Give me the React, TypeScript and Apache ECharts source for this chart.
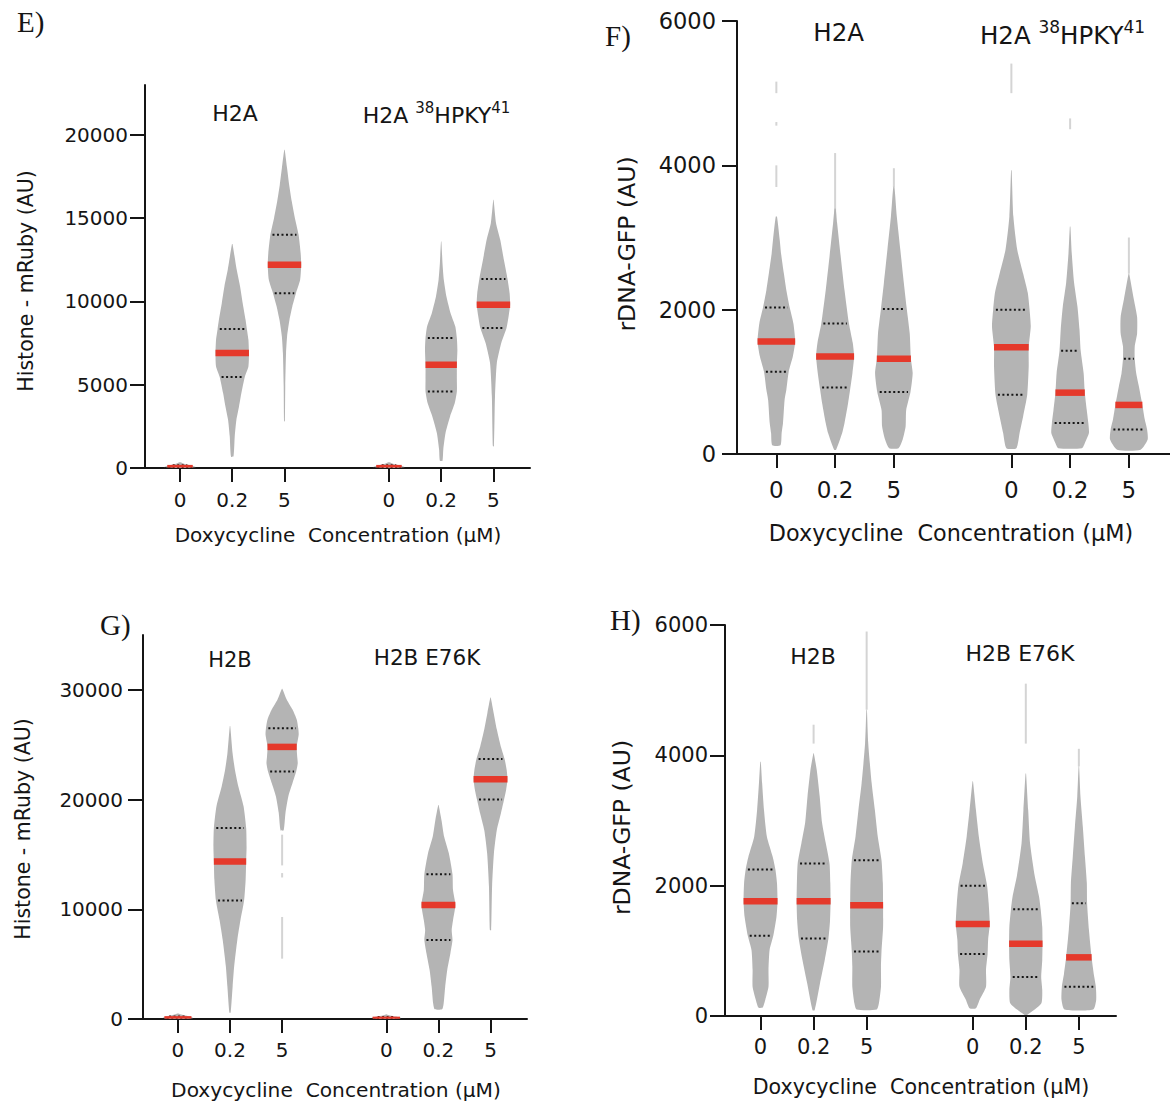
import React, { useEffect, useRef } from 'react';
import * as echarts from 'echarts';

// ---------- shared categories ----------
const POSITIONS = [1, 2, 3, 5, 6, 7];
const DOSE_LABELS = ['0', '0.2', '5', '0', '0.2', '5'];

// ---------- Panel E : H2A / H2A 38HPKY41, Histone - mRuby ----------
const E_Y_TICKS = [0, 5000, 10000, 15000, 20000];
const E_MEDIAN = [110, 6900, 12200, 110, 6200, 9800];
const E_Q1 = [50, 5470, 10500, 50, 4600, 8400];
const E_Q3 = [180, 8350, 14000, 180, 7800, 11350];
// [value, half width in category units]
const E_SHAPES: number[][][] = [
  [[0, 0.1], [60, 0.3], [150, 0.2], [250, 0.08], [340, 0.01]],
  [[700, 0.025], [1900, 0.048], [2900, 0.08], [3700, 0.13], [4500, 0.175], [5470, 0.24], [6100, 0.31], [6900, 0.32], [7700, 0.31], [8350, 0.28], [8900, 0.255], [9900, 0.2], [10900, 0.15], [11900, 0.086], [12700, 0.045], [13450, 0.005]],
  [[2800, 0.008], [4900, 0.015], [6900, 0.03], [7900, 0.05], [8900, 0.096], [9700, 0.15], [10500, 0.22], [11300, 0.3], [12200, 0.32], [12900, 0.31], [14000, 0.27], [15000, 0.2], [16000, 0.14], [17000, 0.09], [18000, 0.05], [19100, 0.005]],
  [[0, 0.1], [60, 0.3], [150, 0.2], [250, 0.08], [340, 0.01]],
  [[440, 0.025], [1100, 0.04], [2100, 0.083], [3100, 0.17], [3900, 0.26], [4600, 0.3], [5300, 0.3], [6200, 0.3], [7100, 0.31], [7800, 0.3], [8500, 0.27], [9300, 0.18], [10300, 0.1], [11300, 0.05], [12300, 0.025], [13600, 0.004]],
  [[1300, 0.01], [4300, 0.03], [6300, 0.065], [7500, 0.15], [8400, 0.25], [9100, 0.29], [9800, 0.32], [10500, 0.31], [11350, 0.27], [12500, 0.2], [13700, 0.13], [14700, 0.05], [16100, 0.004]],
];
const E_TAILS: number[][][] = [[], [], [], [], [], []];

// ---------- Panel F : H2A / H2A 38HPKY41, rDNA-GFP ----------
const F_Y_TICKS = [0, 2000, 4000, 6000];
const F_MEDIAN = [1560, 1350, 1320, 1480, 850, 680];
const F_Q1 = [1140, 920, 860, 820, 430, 340];
const F_Q3 = [2030, 1810, 2010, 2000, 1430, 1320];
const F_SHAPES: number[][][] = [
  [[120, 0.07], [290, 0.09], [430, 0.113], [750, 0.14], [890, 0.17], [1140, 0.21], [1350, 0.28], [1560, 0.32], [1810, 0.29], [2030, 0.227], [2270, 0.17], [2500, 0.128], [2780, 0.08], [2970, 0.057], [3290, 0.01]],
  [[60, 0.017], [290, 0.12], [430, 0.16], [700, 0.22], [890, 0.255], [1120, 0.295], [1350, 0.323], [1540, 0.3], [1810, 0.235], [2270, 0.16], [2730, 0.096], [3200, 0.034], [3400, 0.01]],
  [[80, 0.08], [200, 0.15], [380, 0.2], [610, 0.21], [860, 0.283], [1120, 0.32], [1320, 0.29], [1670, 0.27], [2010, 0.22], [2370, 0.17], [2830, 0.11], [3290, 0.05], [3700, 0.01]],
  [[80, 0.085], [290, 0.14], [520, 0.2], [820, 0.27], [1210, 0.295], [1480, 0.295], [1770, 0.33], [2000, 0.31], [2230, 0.28], [2500, 0.2], [2830, 0.1], [3290, 0.034], [3930, 0.005]],
  [[80, 0.2], [150, 0.25], [290, 0.32], [430, 0.31], [610, 0.283], [850, 0.25], [1120, 0.23], [1430, 0.18], [1720, 0.16], [2040, 0.125], [2370, 0.068], [2780, 0.028], [3150, 0.005]],
  [[60, 0.2], [200, 0.32], [340, 0.31], [480, 0.27], [680, 0.23], [940, 0.17], [1120, 0.125], [1320, 0.1], [1490, 0.1], [1670, 0.14], [1900, 0.14], [2140, 0.085], [2500, 0.005]],
];
const F_TAILS: number[][][] = [
  [[3700, 4000], [4550, 4600], [5000, 5160]],
  [[3290, 4170]],
  [[3700, 3960]],
  [[5000, 5410]],
  [[4500, 4650]],
  [[2500, 3000]],
];

// ---------- Panel G : H2B / H2B E76K, Histone - mRuby ----------
const G_Y_TICKS = [0, 10000, 20000, 30000];
const G_MEDIAN = [150, 14350, 24800, 120, 10400, 21850];
const G_Q1 = [80, 10800, 22550, 60, 7200, 20000];
const G_Q3 = [250, 17400, 26500, 200, 13200, 23700];
const G_SHAPES: number[][][] = [
  [[0, 0.1], [100, 0.29], [250, 0.2], [380, 0.08], [500, 0.01]],
  [[580, 0.012], [2950, 0.05], [4800, 0.08], [7200, 0.14], [9000, 0.2], [10800, 0.27], [12700, 0.3], [14350, 0.31], [15700, 0.318], [17400, 0.31], [19400, 0.26], [21200, 0.16], [22700, 0.095], [24200, 0.05], [26700, 0.004]],
  [[17200, 0.03], [18800, 0.065], [20300, 0.12], [21500, 0.2], [22550, 0.27], [23300, 0.3], [23900, 0.29], [24800, 0.28], [25900, 0.318], [26500, 0.31], [27300, 0.28], [28200, 0.2], [29100, 0.09], [30100, 0.004]],
  [[0, 0.1], [100, 0.28], [220, 0.18], [330, 0.07], [420, 0.01]],
  [[880, 0.07], [1400, 0.1], [2950, 0.13], [4500, 0.17], [6000, 0.23], [7200, 0.27], [8100, 0.255], [9000, 0.28], [10400, 0.325], [11750, 0.28], [13200, 0.27], [15100, 0.2], [16600, 0.11], [18100, 0.06], [19500, 0.004]],
  [[8100, 0.012], [12100, 0.03], [15100, 0.065], [17200, 0.12], [18750, 0.2], [20000, 0.26], [20900, 0.3], [21850, 0.325], [22700, 0.31], [23700, 0.27], [24800, 0.2], [26400, 0.12], [27900, 0.06], [29300, 0.004]],
];
const G_TAILS: number[][][] = [[], [], [[5500, 9300], [12900, 13300], [14000, 16800]], [], [], []];

// ---------- Panel H : H2B / H2B E76K, rDNA-GFP ----------
const H_Y_TICKS = [0, 2000, 4000, 6000];
const H_MEDIAN = [1760, 1760, 1700, 1410, 1110, 900];
const H_Q1 = [1230, 1190, 990, 950, 600, 450];
const H_Q3 = [2250, 2340, 2390, 2000, 1640, 1730];
const H_SHAPES: number[][][] = [
  [[130, 0.04], [250, 0.09], [450, 0.15], [710, 0.15], [1010, 0.17], [1230, 0.24], [1520, 0.3], [1760, 0.32], [2040, 0.31], [2250, 0.28], [2440, 0.23], [2750, 0.12], [3160, 0.065], [3570, 0.03], [3900, 0.005]],
  [[90, 0.02], [500, 0.12], [860, 0.21], [1190, 0.28], [1470, 0.31], [1760, 0.32], [2040, 0.315], [2340, 0.3], [2650, 0.23], [2960, 0.16], [3370, 0.115], [3770, 0.06], [4030, 0.005]],
  [[100, 0.19], [190, 0.23], [450, 0.27], [760, 0.27], [990, 0.28], [1370, 0.31], [1700, 0.31], [2040, 0.305], [2390, 0.28], [2750, 0.21], [3160, 0.155], [3570, 0.095], [4180, 0.03], [4700, 0.005]],
  [[120, 0.06], [250, 0.13], [450, 0.25], [710, 0.25], [950, 0.28], [1170, 0.29], [1410, 0.32], [1730, 0.3], [2000, 0.27], [2340, 0.19], [2750, 0.115], [3160, 0.06], [3600, 0.005]],
  [[20, 0.03], [190, 0.29], [400, 0.31], [600, 0.29], [860, 0.31], [1110, 0.315], [1370, 0.31], [1640, 0.28], [1830, 0.25], [2140, 0.17], [2650, 0.08], [3160, 0.045], [3720, 0.005]],
  [[100, 0.27], [250, 0.327], [450, 0.32], [650, 0.28], [900, 0.24], [1320, 0.19], [1730, 0.155], [2040, 0.15], [2440, 0.115], [2900, 0.075], [3370, 0.03], [3830, 0.005]],
];
const H_TAILS: number[][][] = [[], [[4180, 4470]], [[4700, 5900]], [], [[4180, 5100]], [[3830, 4100]]];

// ---------- styling ----------
const GREY = '#b4b4b4';
const TAIL = '#d4d4d4';
const RED = '#e5392b';
const INK = '#151515';
const SANS = '"DejaVu Sans", "Liberation Sans", Arial, sans-serif';
const SERIF = '"Liberation Serif", "DejaVu Serif", serif';

type Panel = {
  grid: { left: number; top: number; width: number; height: number };
  yMax: number;
  yTicks: number[];
  median: number[];
  q1: number[];
  q3: number[];
  shapes: number[][][];
  tails: number[][][];
  tickFont: number;
  catFont: number;
  yLabelMargin: number;
  xLabelMargin: number;
};

const PANELS: Panel[] = [
  { grid: { left: 145, top: 85, width: 385, height: 383 }, yMax: 23000, yTicks: E_Y_TICKS, median: E_MEDIAN, q1: E_Q1, q3: E_Q3, shapes: E_SHAPES, tails: E_TAILS, tickFont: 20, catFont: 20, yLabelMargin: 17, xLabelMargin: 22 },
  { grid: { left: 737, top: 21, width: 433, height: 433 }, yMax: 6000, yTicks: F_Y_TICKS, median: F_MEDIAN, q1: F_Q1, q3: F_Q3, shapes: F_SHAPES, tails: F_TAILS, tickFont: 22.5, catFont: 23, yLabelMargin: 21, xLabelMargin: 24 },
  { grid: { left: 143, top: 635, width: 384, height: 384 }, yMax: 35000, yTicks: G_Y_TICKS, median: G_MEDIAN, q1: G_Q1, q3: G_Q3, shapes: G_SHAPES, tails: G_TAILS, tickFont: 20, catFont: 20, yLabelMargin: 20, xLabelMargin: 21 },
  { grid: { left: 725, top: 625, width: 391, height: 391 }, yMax: 6000, yTicks: H_Y_TICKS, median: H_MEDIAN, q1: H_Q1, q3: H_Q3, shapes: H_SHAPES, tails: H_TAILS, tickFont: 21, catFont: 21, yLabelMargin: 17, xLabelMargin: 20 },
];

function hwAt(shape: number[][], v: number): number {
  if (v <= shape[0][0]) return shape[0][1];
  for (let i = 1; i < shape.length; i++) {
    const [v1, w1] = shape[i];
    const [v0, w0] = shape[i - 1];
    if (v <= v1) return w0 + ((w1 - w0) * (v - v0)) / (v1 - v0);
  }
  return shape[shape.length - 1][1];
}

function makeRenderItem(panel: Panel) {
  return (params: any, api: any) => {
    const j = params.dataIndex;
    const p = POSITIONS[j];
    const shape = panel.shapes[j];
    const children: any[] = [];
    (panel.tails[j] || []).forEach(([a, b]) => {
      const s = api.coord([p, a]);
      const e = api.coord([p, b]);
      children.push({ type: 'line', shape: { x1: s[0], y1: s[1], x2: e[0], y2: e[1] }, style: { stroke: TAIL, lineWidth: 2 } });
    });
    const right = shape.map(([v, w]) => api.coord([p + w, v]));
    const left = shape.slice().reverse().map(([v, w]) => api.coord([p - w, v]));
    children.push({ type: 'polygon', shape: { points: [...right, ...left], smooth: 0.2 }, style: { fill: GREY } });
    const bodyPx = Math.abs(api.coord([p, shape[shape.length - 1][0]])[1] - api.coord([p, shape[0][0]])[1]);
    const small = bodyPx < 20;
    [panel.q1[j], panel.q3[j]].forEach((q) => {
      const w = hwAt(shape, q) * 0.85;
      const a = api.coord([p - w, q]);
      const b = api.coord([p + w, q]);
      children.push({ type: 'line', shape: { x1: a[0], y1: a[1], x2: b[0], y2: b[1] }, style: { stroke: small ? '#5a1a14' : INK, lineWidth: small ? 1.5 : 2, lineDash: [2, 2.5] } });
    });
    const m = panel.median[j];
    const w = hwAt(shape, m);
    const a = api.coord([p - w, m]);
    const b = api.coord([p + w, m]);
    const th = small ? Math.max(2, bodyPx * 0.45) : 6.5;
    children.push({ type: 'rect', shape: { x: a[0], y: a[1] - th / 2, width: b[0] - a[0], height: th }, style: { fill: RED } });
    return { type: 'group', children };
  };
}

function txt(text: string, x: number, y: number, size: number, opts: any = {}) {
  return {
    type: 'text',
    x,
    y,
    rotation: opts.rotation || 0,
    silent: true,
    style: {
      text,
      fill: INK,
      fontSize: size,
      fontFamily: opts.family || SANS,
      align: opts.align || 'center',
      verticalAlign: 'middle',
      rich: opts.rich,
    },
  };
}

function supLabel(x: number, y: number, size: number) {
  const sup = Math.round(size * 0.68);
  return txt('{m|H2A }{s|38}{m|HPKY}{s|41}', x, y, size, {
    rich: {
      m: { fontSize: size, fontFamily: SANS, fill: INK, lineHeight: Math.round(size * 1.2), verticalAlign: 'bottom' },
      s: { fontSize: sup, fontFamily: SANS, fill: INK, lineHeight: sup, verticalAlign: 'top' },
    },
  });
}

export default function App() {
  const ref = useRef<HTMLDivElement>(null);
  useEffect(() => {
    if (!ref.current) return;
    const chart = echarts.init(ref.current, undefined, { renderer: 'svg' });
    const axisLineStyle = { color: INK, width: 2 };
    const option: any = {
      animation: false,
      grid: PANELS.map((p) => ({ ...p.grid, containLabel: false })),
      xAxis: PANELS.map((p, i) => ({
        type: 'value',
        gridIndex: i,
        min: 0.33,
        max: 7.7,
        axisLine: { show: true, onZero: false, lineStyle: axisLineStyle },
        axisTick: { show: true, inside: false, length: 14, lineStyle: axisLineStyle, customValues: POSITIONS },
        axisLabel: {
          show: true,
          customValues: POSITIONS,
          margin: p.xLabelMargin,
          color: INK,
          fontSize: p.catFont,
          fontFamily: SANS,
          formatter: (v: number) => DOSE_LABELS[POSITIONS.indexOf(Math.round(v))] ?? '',
        },
        splitLine: { show: false },
      })),
      yAxis: PANELS.map((p, i) => ({
        type: 'value',
        gridIndex: i,
        min: 0,
        max: p.yMax,
        axisLine: { show: true, lineStyle: axisLineStyle },
        axisTick: { show: true, inside: false, length: 15, lineStyle: axisLineStyle, customValues: p.yTicks },
        axisLabel: {
          show: true,
          customValues: p.yTicks,
          margin: p.yLabelMargin,
          color: INK,
          fontSize: p.tickFont,
          fontFamily: SANS,
          formatter: (v: number) => String(v),
        },
        splitLine: { show: false },
      })),
      series: PANELS.map((p, i) => ({
        type: 'custom',
        xAxisIndex: i,
        yAxisIndex: i,
        clip: false,
        silent: true,
        data: POSITIONS.map((pos, j) => [pos, p.median[j]]),
        renderItem: makeRenderItem(p),
      })),
      graphic: [
        // panel letters
        txt('E)', 17, 22, 29, { family: SERIF, align: 'left' }),
        txt('F)', 605, 36, 29, { family: SERIF, align: 'left' }),
        txt('G)', 100, 625, 29, { family: SERIF, align: 'left' }),
        txt('H)', 610, 620, 29, { family: SERIF, align: 'left' }),
        // group labels
        txt('H2A', 235, 113.5, 22),
        supLabel(436.5, 113, 22),
        txt('H2A', 838.7, 32, 24.5),
        supLabel(1062.5, 33, 24.5),
        txt('H2B', 230, 660, 21),
        txt('H2B E76K', 427, 657, 21.5),
        txt('H2B', 813, 656.5, 22),
        txt('H2B E76K', 1020, 653, 22),
        // y titles
        txt('Histone - mRuby (AU)', 25.5, 281, 20.5, { rotation: Math.PI / 2 }),
        txt('rDNA-GFP (AU)', 627, 244, 23.5, { rotation: Math.PI / 2 }),
        txt('Histone - mRuby (AU)', 23, 829, 20.5, { rotation: Math.PI / 2 }),
        txt('rDNA-GFP (AU)', 622.4, 827.5, 23.5, { rotation: Math.PI / 2 }),
        // x titles
        txt('Doxycycline  Concentration (\u00b5M)', 338, 535, 20),
        txt('Doxycycline  Concentration (\u00b5M)', 951, 533, 22.3),
        txt('Doxycycline  Concentration (\u00b5M)', 336, 1090, 20.2),
        txt('Doxycycline  Concentration (\u00b5M)', 921, 1086.7, 20.6),
      ],
    };
    chart.setOption(option);
    return () => chart.dispose();
  }, []);
  return (
    <div
      ref={ref}
      style={{ position: 'absolute', left: 0, top: 0, width: 1170, height: 1101, background: '#ffffff' }}
    />
  );
}
